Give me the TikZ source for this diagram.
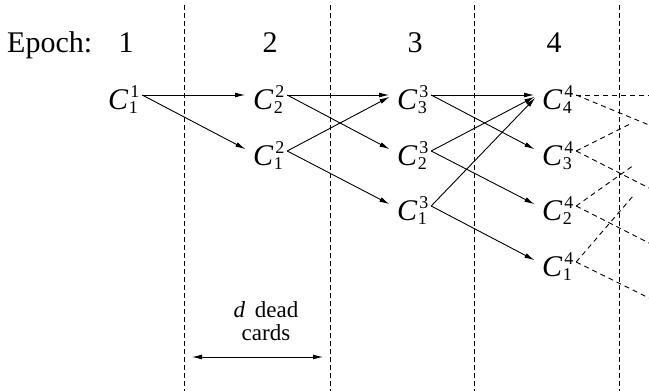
\documentclass[tikz,border=0pt]{standalone}
\usepackage{fontspec}
\setmainfont{Liberation Serif}
\usetikzlibrary{arrows.meta}
\newcommand\Cn[2]{\fontsize{30}{33}\selectfont\textit{C}\kern0.5pt\rlap{\kern1.5pt\raisebox{0.40em}{\fontsize{18}{18}\selectfont #1}}\raisebox{-0.15em}{\fontsize{18}{18}\selectfont #2}}
\tikzset{
  card/.style={anchor=west, inner xsep=4pt, inner ysep=0pt, text height=28pt, text depth=0pt, minimum height=0pt},
  sep/.style={draw, line width=0.8pt, dash pattern=on 4.5pt off 3.5pt},
  flow/.style={draw, line width=0.9pt, -{Latex[length=10pt,width=5pt]}, shorten >=4pt},
  ghost/.style={draw, line width=0.9pt, dash pattern=on 5pt off 4pt},
  epoch/.style={anchor=base, inner sep=0pt, font=\fontsize{30}{34}\selectfont},
  lab/.style={anchor=base, inner sep=0pt, font=\fontsize{23}{26}\selectfont}
}
\begin{document}
\begin{tikzpicture}[x=1pt,y=-1pt]
\useasboundingbox (0,0) rectangle (649,391);
% separators
\foreach \i/\x in {1/184,2/330,3/474,4/619}{
  \coordinate (t\i) at (\x,5);
  \coordinate (b\i) at (\x,391);
  \draw[sep] (t\i) -- (b\i);
}
% epoch labels
\node[epoch, anchor=base west] (ep) at (7,52) {Epoch:};
\node[epoch] (e1) at (126,52) {1};
\node[epoch] (e2) at (270,52) {2};
\node[epoch] (e3) at (415,52) {3};
\node[epoch] (e4) at (554,52) {4};
% cards
\node[card] (c11) at (104,95) {\Cn{1}{1}};
\node[card] (c22) at (249,95) {\Cn{2}{2}};
\node[card] (c12) at (249,151) {\Cn{2}{1}};
\node[card] (c33) at (393,95) {\Cn{3}{3}};
\node[card] (c23) at (393,151) {\Cn{3}{2}};
\node[card] (c13) at (393,206) {\Cn{3}{1}};
\node[card] (c44) at (538,95) {\Cn{4}{4}};
\node[card] (c34) at (538,151) {\Cn{4}{3}};
\node[card] (c24) at (538,206) {\Cn{4}{2}};
\node[card] (c14) at (538,262) {\Cn{4}{1}};
% transitions
\draw[flow] (c11.east) -- (c22.west);
\draw[flow] (c11.east) -- (c12.west);
\draw[flow] (c22.east) -- (c33.west);
\draw[flow] (c22.east) -- (c23.west);
\draw[flow] (c12.east) -- (c33.west);
\draw[flow] (c12.east) -- (c13.west);
\draw[flow] (c33.east) -- (c44.west);
\draw[flow] (c33.east) -- (c34.west);
\draw[flow] (c23.east) -- (c44.west);
\draw[flow] (c23.east) -- (c24.west);
\draw[flow] (c13.east) -- (c44.west);
\draw[flow] (c13.east) -- (c14.west);
% continuation (dashed)
\coordinate (g44a) at (649,95);
\coordinate (g44b) at (649,125);
\coordinate (g34a) at (630,124);
\coordinate (g34b) at (649,188);
\coordinate (g24a) at (634,165);
\coordinate (g24b) at (649,243);
\coordinate (g14a) at (633,196);
\coordinate (g14b) at (649,298);
\draw[ghost] (c44.east) -- (g44a);
\draw[ghost] (c44.east) -- (g44b);
\draw[ghost] (c34.east) -- (g34a);
\draw[ghost] (c34.east) -- (g34b);
\draw[ghost] (c24.east) -- (g24a);
\draw[ghost] (c24.east) -- (g24b);
\draw[ghost] (c14.east) -- (g14a);
\draw[ghost] (c14.east) -- (g14b);
% dead cards
\node[lab] (dd) at (266,317) {\textit{d}\,\ dead};
\node[lab] (cards) at (266,340) {cards};
\coordinate (dl) at (192,357);
\coordinate (dr) at (323,357);
\draw[line width=0.9pt, {Latex[length=10pt,width=5pt]}-{Latex[length=10pt,width=5pt]}] (dl) -- (dr);
\end{tikzpicture}
\end{document}
